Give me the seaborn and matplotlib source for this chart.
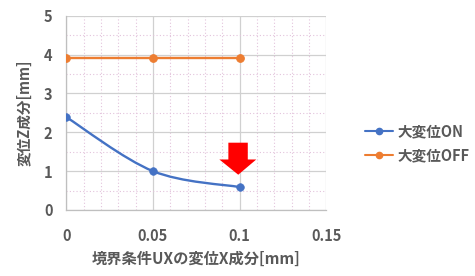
import numpy as np
import pandas as pd
import matplotlib
matplotlib.use("Agg")
import matplotlib.pyplot as plt
from matplotlib.path import Path
from matplotlib.patches import PathPatch, Polygon
from matplotlib.ticker import MultipleLocator, FixedLocator
from matplotlib.lines import Line2D
import seaborn as sns

# ---- data ----
ux = [0.0, 0.05, 0.1]
z_on = [2.39, 1.00, 0.59]
z_off = [3.92, 3.92, 3.92]
series_names = ["大変位ON", "大変位OFF"]
x_ticks = [0, 0.05, 0.1, 0.15]
x_tick_labels = ["0", "0.05", "0.1", "0.15"]
y_ticks = [0, 1, 2, 3, 4, 5]
xlabel = "境界条件UXの変位X成分[mm]"
ylabel = "変位Z成分[mm]"

c_on = "#4472C4"
c_off = "#ED7D31"
grey = "#595959"

sns.set_style("white")
plt.rcParams['font.family'] = ['Noto Sans CJK JP', 'DejaVu Sans']

fig = plt.figure(figsize=(4.75, 2.76), dpi=100)
ax = fig.add_axes([66.3/475, 1-210/276, (326.3-66.3)/475, (210-15.7)/276])

ax.set_xlim(0, 0.15)
ax.set_ylim(0, 5)

# grid
ax.xaxis.set_major_locator(FixedLocator(x_ticks))
ax.yaxis.set_major_locator(FixedLocator(y_ticks))
ax.xaxis.set_minor_locator(MultipleLocator(0.01))
ax.yaxis.set_minor_locator(MultipleLocator(0.5))
ax.grid(which="minor", color="#e3c3dc", linestyle=(0, (1, 2)), linewidth=0.8)
ax.grid(which="major", color="#d0d0d0", linestyle="-", linewidth=0.9)
ax.set_axisbelow(True)

# smoothed ON curve (Excel-style bezier through data points)
pts = np.column_stack([ux, z_on])
ext = np.vstack([pts[0], pts, pts[-1]])
verts = [tuple(pts[0])]
codes = [Path.MOVETO]
for i in range(len(pts) - 1):
    p0, p1, p2, p3 = ext[i], ext[i + 1], ext[i + 2], ext[i + 3]
    c1 = p1 + (p2 - p0) / 6
    c2 = p2 - (p3 - p1) / 6
    verts += [tuple(c1), tuple(c2), tuple(p2)]
    codes += [Path.CURVE4] * 3
ax.add_patch(PathPatch(Path(verts, codes), fill=False, edgecolor=c_on, linewidth=1.7, zorder=3))

df = pd.DataFrame({"x": ux * 2, "y": z_on + z_off,
                   "s": [series_names[0]] * 3 + [series_names[1]] * 3})
sns.scatterplot(data=df[df.s == series_names[0]], x="x", y="y", color=c_on, s=30,
                edgecolor=c_on, linewidth=0.5, ax=ax, zorder=4, legend=False)
sns.lineplot(data=df[df.s == series_names[1]], x="x", y="y", color=c_off, marker="o",
             markersize=5.5, markeredgecolor=c_off, linewidth=1.7, ax=ax, zorder=4, legend=False)

# red arrow
arrow = [(0.0935, 1.732), (0.1047, 1.732), (0.1047, 1.30), (0.1096, 1.30),
         (0.0992, 0.908), (0.0883, 1.30), (0.0935, 1.30)]
ax.add_patch(Polygon(arrow, closed=True, facecolor="#FF0000", edgecolor="none", zorder=5))

# axes styling
for s in ["top", "right"]:
    ax.spines[s].set_visible(False)
for s in ["left", "bottom"]:
    ax.spines[s].set_color("#bfbfbf")
    ax.spines[s].set_linewidth(0.9)
ax.tick_params(axis="both", which="both", length=0, colors=grey, labelsize=10.5)
ax.tick_params(axis="x", pad=13)
ax.tick_params(axis="y", pad=10)
ax.set_xticklabels(x_tick_labels, fontweight="bold")
ax.set_yticklabels([str(v) for v in y_ticks], fontweight="bold")
ax.set_xlabel(xlabel, color=grey, fontsize=11, fontweight="bold", labelpad=5)
ax.set_ylabel(ylabel, color=grey, fontsize=10.5, fontweight="bold", labelpad=8)

# legend
handles = [Line2D([], [], color=c_on, marker="o", markersize=4.5, linewidth=1.5),
           Line2D([], [], color=c_off, marker="o", markersize=4.5, linewidth=1.5)]
leg = fig.legend(handles, series_names, loc="center left", bbox_to_anchor=(352/475, 1-143.5/276),
                 frameon=False, handlelength=1.9, handletextpad=0.3, labelspacing=0.55,
                 prop={"weight": "bold", "size": 10.5})
for t in leg.get_texts():
    t.set_color(grey)

fig.savefig("out.png", dpi=100)
